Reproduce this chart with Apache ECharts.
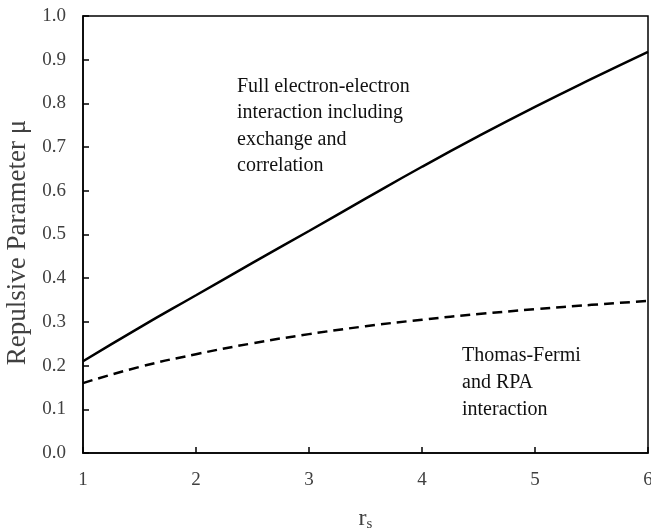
<!DOCTYPE html>
<html>
<head>
<meta charset="utf-8">
<script src="https://cdn.jsdelivr.net/npm/echarts@6/dist/echarts.min.js"></script>
<style>
  html, body { margin: 0; padding: 0; background: #fff; }
  #chart { width: 651px; height: 531px; }
</style>
</head>
<body>
<div id="chart"></div>
<script>
// Wigner-Seitz radius r_s
const rs = [1, 1.5, 2, 2.5, 3, 3.5, 4, 4.5, 5, 5.5, 6];
// repulsive parameter mu, full e-e interaction with exchange and correlation
const muFull = [0.21, 0.287, 0.361, 0.435, 0.508, 0.582, 0.655, 0.725, 0.792, 0.856, 0.918];
// repulsive parameter mu, Thomas-Fermi / RPA screening
const muTF = [0.16, 0.197, 0.226, 0.251, 0.272, 0.29, 0.305, 0.318, 0.329, 0.339, 0.348];

const xTicks = [1, 2, 3, 4, 5, 6];

const serif = '"Liberation Serif", "DejaVu Serif", serif';
const textColor = '#404040';

const chart = echarts.init(document.getElementById('chart'));
chart.setOption({
  animation: false,
  grid: {
    left: 83, right: 3, top: 16, bottom: 78,
    outerBoundsMode: 'none', containLabel: false,
    show: true, borderColor: '#000', borderWidth: 1.5, backgroundColor: 'transparent'
  },
  xAxis: {
    type: 'value',
    min: xTicks[0], max: xTicks[xTicks.length - 1], interval: 1,
    name: '{r|r}{s|s}',
    nameLocation: 'middle', nameGap: 52,
    nameTextStyle: {
      rich: {
        r: { fontFamily: serif, fontSize: 24, color: textColor },
        s: { fontFamily: serif, fontSize: 15, color: textColor, verticalAlign: 'bottom', padding: [12, 0, 0, 0] }
      }
    },
    axisLine: { show: true, lineStyle: { color: '#000', width: 1.5 } },
    axisTick: { show: true, inside: true, length: 6, lineStyle: { color: '#000', width: 1.5 } },
    axisLabel: { fontFamily: serif, fontSize: 19, color: textColor, margin: 18 },
    splitLine: { show: false }
  },
  yAxis: {
    type: 'value',
    min: 0, max: 1, interval: 0.1,
    name: 'Repulsive Parameter μ',
    nameLocation: 'middle', nameGap: 48,
    nameTextStyle: { fontFamily: serif, fontSize: 27, color: textColor, padding: [0, 16, 0, 0] },
    axisLine: { show: true, lineStyle: { color: '#000', width: 1.5 } },
    axisTick: { show: true, inside: true, length: 6, lineStyle: { color: '#000', width: 1.5 } },
    axisLabel: {
      fontFamily: serif, fontSize: 19, color: textColor, margin: 17,
      formatter: v => v.toFixed(1)
    },
    splitLine: { show: false }
  },
  series: [
    {
      type: 'line', smooth: true, symbol: 'none',
      data: rs.map((x, i) => [x, muFull[i]]),
      lineStyle: { color: '#000', width: 2.5 }
    },
    {
      type: 'line', smooth: true, symbol: 'none',
      data: rs.map((x, i) => [x, muTF[i]]),
      lineStyle: { color: '#000', width: 2.5, type: [10, 6] }
    }
  ],
  graphic: [
    {
      type: 'text', left: 237, top: 73,
      style: {
        text: 'Full electron-electron\ninteraction including\nexchange and\ncorrelation',
        font: '20px ' + serif, fill: '#111', lineHeight: 26.5
      }
    },
    {
      type: 'text', left: 462, top: 342,
      style: {
        text: 'Thomas-Fermi\nand RPA\ninteraction',
        font: '20px ' + serif, fill: '#111', lineHeight: 27
      }
    }
  ]
});
</script>
</body>
</html>
